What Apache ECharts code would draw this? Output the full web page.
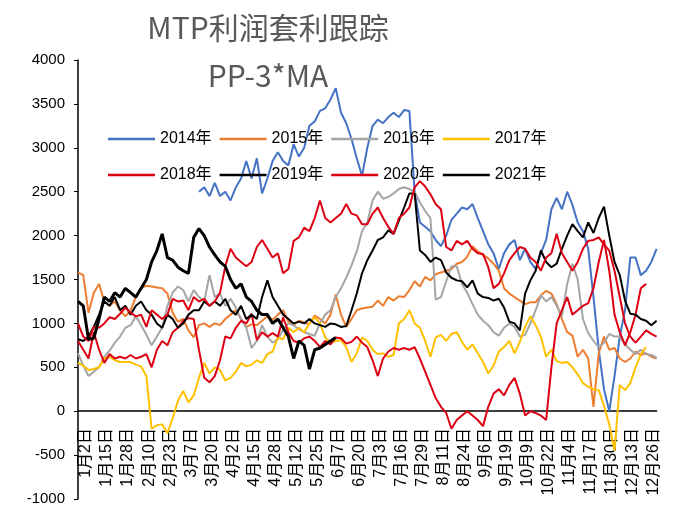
<!DOCTYPE html>
<html>
<head>
<meta charset="utf-8">
<title>MTP利润套利跟踪</title>
<script src="https://cdn.jsdelivr.net/npm/echarts@6/dist/echarts.min.js"></script>
<style>
  html, body { margin: 0; padding: 0; background: #fff; }
  #chart { width: 673px; height: 508px; }
</style>
</head>
<body>
<div id="chart"></div>
<script>
// 横轴刻度标签（每个标签之间取 3 个中间点）
const tickLabels = ['1月2日', '1月15日', '1月28日', '2月10日', '2月23日', '3月7日', '3月20日',
  '4月2日', '4月15日', '4月28日', '5月12日', '5月25日', '6月7日', '6月20日', '7月3日',
  '7月16日', '7月29日', '8月11日', '8月24日', '9月6日', '9月19日', '10月9日', '10月22日',
  '11月4日', '11月17日', '11月30日', '12月13日', '12月26日']
const tailPoints = 2

const seriesNames = ['2014年', '2015年', '2016年', '2017年', '2018年', '2019年', '2020年', '2021年']

const y2014 = [null, null, null, null, null, null, null, null, null, null,
  null, null, null, null, null, null, null, null, null, null,
  null, null, null,
  2500, 2550, 2450, 2600, 2450, 2500, 2400, 2550,
  2650, 2850, 2650, 2880, 2480, 2650, 2850, 2950, 2850, 2800,
  3040, 2900, 3000, 3250, 3300, 3420, 3450, 3550, 3680, 3400,
  3280, 3100, 2880, 2680, 3000, 3250, 3320, 3280, 3350, 3400,
  3350, 3430, 3420, 2500, 2150, 2100, 2050, 1950, 1880, 2000,
  2180, 2250, 2320, 2300, 2360, 2200, 2050, 1900, 1800, 1620,
  1800, 1900, 1950, 1720, 1850, 1700, 1620, 1800, 1950, 2300,
  2430, 2300, 2500, 2350, 2150, 2050, 1850, 1300, 700, 250,
  0, 400, 850, 1150, 1750, 1750, 1550, 1600, 1700, 1850]

const y2015 = [1580, 1550, 1120, 1350, 1450, 1250, 1200, 1250, 1150, 1080,
  1150, 1300, 1400, 1430, 1420, 1410, 1400, 1340, 1120, 1020,
  1050, 920, 840, 980, 1000, 960, 1000, 980, 1050, 1100,
  1150, 1050, 960, 990, 980, 1030, 1080, 1040, 1100, 1150,
  1020, 980, 1030, 1010, 990, 1090, 1050, 1000, 1100, 1330,
  1100, 960, 1050, 1150, 1170, 1180, 1190, 1260, 1200, 1300,
  1260, 1310, 1300, 1380, 1480, 1420, 1530, 1490, 1560, 1580,
  1600, 1620, 1680, 1700, 1760, 1880, 1820, 1780, 1740, 1680,
  1600, 1400, 1340, 1300, 1260, 1220, 1240, 1240, 1320, 1370,
  1340, 1220, 1050, 900, 860, 620, 700, 600, 50, 660,
  850, 700, 720, 600, 560, 600, 680, 640, 660, 620, 600]

const y2016 = [660, 520, 400, 450, 500, 620, 690, 780, 850, 950,
  980, 1080, 980, 870, 750, 850, 950, 1200, 1350, 1420,
  1380, 1250, 1380, 1300, 1250, 1550, 1300, 1340, 1200, 1280,
  1180, 1050, 950, 720, 800, 980, 850, 780, 820, 930,
  1000, 980, 930, 900, 880, 860, 1000, 1100, 1150, 1300,
  1400, 1520, 1660, 1820, 2050, 2150, 2400, 2500, 2420, 2440,
  2480, 2530, 2550, 2530, 2500, 2380, 2280, 2200, 1270, 1300,
  1480, 1650, 1650, 1450, 1350, 1220, 1100, 1030, 980, 900,
  860, 950, 1000, 960, 850, 870, 1000, 1150, 1320, 1250,
  1300, 1200, 1080, 1450, 1680, 1500, 1050, 890, 800, 730,
  780, 880, 850, 850, 760, 700, 650, 700, 650, 640, 610]

const y2017 = [550, 520, 470, 480, 500, 600, 620, 580, 560, 560,
  560, 530, 510, 400, -200, -160, -150, -250, -80, 120,
  230, 100, 180, 380, 550, 430, 500, 470, 350, 380,
  450, 550, 510, 530, 580, 550, 650, 680, 840, 820,
  950, 900, 950, 900, 1000, 1070, 1000, 840, 780, 800,
  810, 730, 560, 660, 840, 800, 700, 650, 660, 620,
  640, 1000, 1050, 1150, 1000, 950, 800, 620, 840, 870,
  800, 880, 900, 790, 700, 760, 660, 560, 430, 520,
  680, 730, 800, 660, 790, 960, 1080, 980, 850, 620,
  700, 570, 550, 560, 500, 420, 320, 280, 250, 240,
  60, -150, -450, 300, 240, 320, 500, 650, 730]

const y2018 = [800, 700, 600, 900, 700, 550, 650, 600, 620, 600,
  640, 600, 620, 650, 500, 700, 800, 750, 900, 950,
  1030, 1060, 1050, 700, 380, 330, 400, 580, 850, 830,
  950, 1030, 1000, 1110, 810, 900, 850, 890, 850, 1070,
  900, 800, 780, 830, 850, 800, 730, 800, 760, 840,
  830, 770, 790, 850, 780, 730, 580, 400, 600, 680,
  720, 700, 720, 700, 730, 600, 450, 300, 150, 50,
  -20, -200, -100, -50, 0, -50, -100, -170, 50, 200,
  250, 180, 300, 380, 200, -50, 0, -20, -50, -100,
  500, 1000, 1150, 1300, 1100, 1150, 1200, 1230, 1400, 1700,
  1950, 1600, 1100, 900, 750, 900, 1100, 1400, 1450]

const y2019 = [820, 800, 850, 960, 1100, 1250, 1200, 1300, 1150, 1200,
  1100, 1200, 1250, 1150, 1100, 1000, 950, 1100, 1050, 950,
  1000, 1100, 1150, 1150, 1250, 1200, 1250, 1200, 1280, 1150,
  1100, 1200, 1050, 1100, 1050, 1300, 1490, 1300, 1200, 1100,
  1050, 1000, 1020, 1000, 1050, 1000, 980, 960, 1000, 990,
  960, 970, 1150, 1340, 1570, 1720, 1830, 1950, 1980, 2060,
  2020, 2170, 2320, 2480, 2480, 1830, 1780, 1700, 1750, 1720,
  1580, 1520, 1490, 1480, 1410, 1490, 1340, 1300, 1290, 1260,
  1280, 1180, 1020, 1000, 920, 1340, 1490, 1600, 1830, 1700,
  1640, 1680, 1850, 2000, 2130, 2050, 1980, 2150, 2030, 2200,
  2330, 2000, 1700, 1550, 1260, 1110, 1100, 1050, 1030, 980, 1030]

const y2020 = [1000, 850, 800, 960, 950, 1000, 1070, 1050, 1110, 1180,
  1120, 1080, 1100, 960, 1150, 1100, 1050, 1100, 1280, 1250,
  1260, 1150, 1300, 1250, 1280, 1200, 1250, 1350, 1650, 1850,
  1750, 1700, 1650, 1700, 1870, 1950, 1850, 1750, 1800, 1570,
  1620, 1940, 1980, 2090, 2050, 2200, 2400, 2200, 2150, 2200,
  2250, 2360, 2250, 2230, 2130, 2130, 2250, 2320, 2200, 2100,
  2020, 2200, 2250, 2320, 2550, 2620, 2560, 2470, 2360, 2300,
  1870, 1830, 1940, 1900, 1940, 1850, 1800, 1790, 1640, 1400,
  1450, 1570, 1720, 1800, 1870, 1850, 1750, 1700, 1600, 1750,
  1800, 2020, 1800, 1700, 1600, 1700, 1850, 1940, 1950, 1980,
  1900, 1830, 1600, 1300, 1000, 850, 780, 850, 920, 880, 850]

const y2021 = [1250, 1200, 820, 830, 1050, 1300, 1250, 1350, 1300, 1400,
  1350, 1300, 1400, 1500, 1700, 1830, 2020, 1750, 1720, 1640,
  1600, 1570, 1980, 2080, 2000, 1870, 1780, 1700, 1650, 1500,
  1400, 1450, 1300, 1250, 1150, 1100, 1100, 1000, 1050, 950,
  850, 600, 800, 750, 480, 700, 720, 760, 800, 840]

const seriesData = [y2014, y2015, y2016, y2017, y2018, y2019, y2020, y2021]
const colors = ['#4472C4', '#ED7D31', '#A5A5A5', '#FFC000', '#DC0012', '#000000', '#DC0012', '#000000']
const widths = [2, 2, 2, 2, 2, 2, 2, 3]

// 类目：刻度标签之间补空类目
const categories = []
tickLabels.forEach(function (label, i) {
  categories.push(label)
  if (i < tickLabels.length - 1) categories.push('', '', '')
})
for (let i = 0; i < tailPoints; i++) categories.push('')

const chart = echarts.init(document.getElementById('chart'))
const legendText = { color: '#000', fontSize: 16, fontFamily: 'Liberation Sans, Noto Sans CJK SC', width: 55 }

chart.setOption({
  animation: false,
  graphic: [
    {
      type: 'text', x: 268, y: 28,
      style: { text: 'MTP利润套利跟踪', align: 'center', verticalAlign: 'middle', fill: '#595959', font: '30px "Noto Sans CJK SC"' }
    },
    {
      type: 'text', x: 268, y: 76,
      style: { text: 'PP-3*MA', align: 'center', verticalAlign: 'middle', fill: '#595959', font: '30px "Noto Sans CJK SC"' }
    }
  ],
  legend: [
    {
      data: seriesNames.slice(0, 4), left: 103, top: 126, itemWidth: 47, itemHeight: 2.5, itemGap: 8,
      icon: 'rect', textStyle: legendText
    },
    {
      data: seriesNames.slice(4), left: 103, top: 162, itemWidth: 47, itemHeight: 2.5, itemGap: 8,
      icon: 'rect', textStyle: legendText
    }
  ],
  grid: { left: 78, right: 16.4, top: 60, bottom: 9, outerBoundsMode: 'none', containLabel: false },
  xAxis: {
    type: 'category',
    data: categories,
    boundaryGap: false,
    axisLine: { onZero: true, lineStyle: { color: '#000', width: 1.5 } },
    axisTick: { show: false },
    axisLabel: {
      // 标签紧贴零轴下方
      interval: 3, rotate: 90, margin: -71, verticalAlign: 'top',
      color: '#000', fontSize: 16, fontFamily: 'Liberation Sans, Noto Sans CJK SC'
    },
    splitLine: { show: false }
  },
  yAxis: {
    type: 'value',
    min: -1000,
    max: 4000,
    interval: 500,
    axisLine: { show: true, lineStyle: { color: '#000', width: 1.5 } },
    axisTick: { show: true, length: 4, lineStyle: { color: '#000' } },
    axisLabel: {
      color: '#000', fontSize: 15, fontFamily: 'Liberation Sans', margin: 13,
      formatter: function (v) { return String(v) }
    },
    splitLine: { show: false }
  },
  series: seriesNames.map(function (name, i) {
    return {
      name: name,
      type: 'line',
      data: seriesData[i],
      symbol: 'none',
      color: colors[i],
      lineStyle: { color: colors[i], width: widths[i] }
    }
  })
})
</script>
</body>
</html>
